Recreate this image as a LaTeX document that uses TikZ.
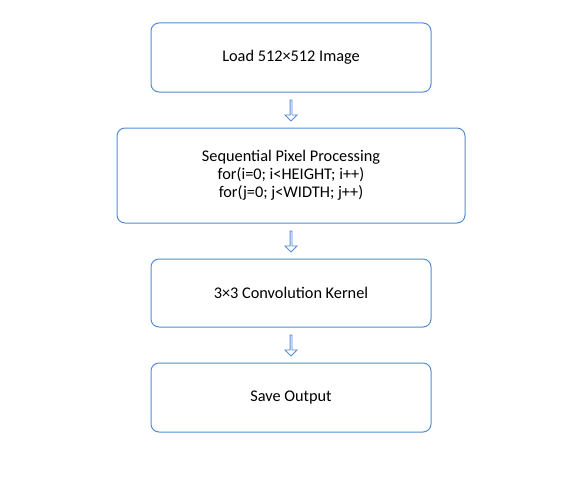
\documentclass[tikz,border=0pt]{standalone}
\usepackage{fontspec}
\setmainfont{Carlito}
\usepackage{tikz}
\usetikzlibrary{positioning,shapes.arrows,calc}

\definecolor{boxblue}{RGB}{84,141,212}

\begin{document}
\begin{tikzpicture}[
    x=1pt, y=1pt,
    node distance=35pt,
    box/.style={
        rectangle,
        rounded corners=8pt,
        draw=boxblue,
        line width=1pt,
        fill=white,
        minimum width=280pt,
        minimum height=69pt,
        align=center,
        font=\fontsize{16.3}{17.8}\selectfont
    },
    flowarrow/.style={
        single arrow,
        draw=boxblue,
        line width=0.9pt,
        fill=white,
        shape border rotate=270,
        minimum height=21pt,
        minimum width=12pt,
        single arrow head extend=2.4pt,
        single arrow head indent=0pt,
        inner sep=0pt
    }
]
\useasboundingbox (0,0) rectangle (583,-487);

\node[box] (load) at (291,-57.5) {Load 512×512 Image};
\node[box, minimum width=348pt, minimum height=95pt, below=of load] (proc) {Sequential Pixel Processing\\for(i=0; i<HEIGHT; i++)\\for(j=0; j<WIDTH; j++)};
\node[box, minimum height=68pt, below=of proc] (conv) {3×3 Convolution Kernel};
\node[box, below=of conv] (save) {Save Output};

\node[flowarrow] (a1) at ($(load.south)!0.5!(proc.north)$) {};
\node[flowarrow] (a2) at ($(proc.south)!0.5!(conv.north)$) {};
\node[flowarrow] (a3) at ($(conv.south)!0.5!(save.north)$) {};

\end{tikzpicture}
\end{document}
